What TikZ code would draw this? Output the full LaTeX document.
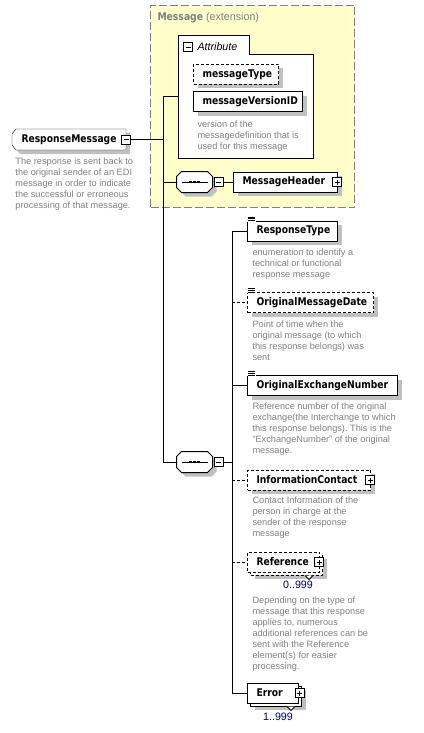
\documentclass[tikz,border=0pt]{standalone}
\usepackage{fontspec}
\setmainfont{Liberation Sans}
\newfontfamily\tahomafont[FakeStretch=0.865]{DejaVu Sans}
\usepackage{tikz}
\usetikzlibrary{shadows,backgrounds}
\definecolor{descgray}{RGB}{128,128,128}
\definecolor{extyellow}{RGB}{255,255,204}
\definecolor{extborder}{RGB}{128,128,128}
\definecolor{multblue}{RGB}{0,0,110}
\definecolor{shadowgray}{RGB}{192,192,192}
\frenchspacing

\begin{document}
\begin{tikzpicture}[x=1pt, y=-1pt, line width=1pt,
    shade/.style={drop shadow={shadow xshift=4pt, shadow yshift=-4pt, fill=shadowgray, opacity=1}},
    elembase/.style={draw, fill=white, minimum height=20pt, inner xsep=9pt, inner ysep=0pt,
        text width=#1, align=left, anchor=west,
        font=\tahomafont\bfseries\fontsize{10.6}{12}\selectfont},
    elem/.style={elembase=#1, shade},
    opt/.style={dash pattern=on 3pt off 2pt},
    seq/.style={minimum width=35pt, minimum height=20pt, inner sep=0pt},
    pm/.style={draw, fill=white, minimum size=9pt, inner sep=0pt, line width=0.8pt},
    minusbox/.style={pm, path picture={
            \draw[line width=0.8pt] ([xshift=2pt]path picture bounding box.west) -- ([xshift=-2pt]path picture bounding box.east);}},
    plusbox/.style={pm, path picture={
            \draw[line width=0.8pt] ([xshift=2pt]path picture bounding box.west) -- ([xshift=-2pt]path picture bounding box.east)
                ([yshift=2pt]path picture bounding box.south) -- ([yshift=-2pt]path picture bounding box.north);}},
    desc/.style={anchor=north west, inner sep=0pt, align=left, text=descgray, font=\fontsize{9.2}{11}\selectfont},
    mult/.style={inner sep=0pt, text=multblue, font=\fontsize{10.7}{12}\selectfont}]

    \useasboundingbox (0,0) rectangle (423,733);

    % Extension
    \node[draw=extborder, fill=extyellow, dash pattern=on 8pt off 3pt, minimum width=204pt, minimum height=202pt,
        anchor=north west, inner sep=0pt] (ext) at (150,5) {};
    \node[anchor=west, inner sep=0pt, text=extborder, font=\fontsize{10.7}{12}\selectfont] (exttitle) at (157,18)
        {{\tahomafont\bfseries Message} (extension)};

    % Attributes
    \draw[fill=white] (178,36) -- (249,36) -- (249,55) -- (313,55) -- (313,158) -- (178,158) -- cycle;
    \coordinate (attr) at (178,97);
    \node[minusbox] (attrm) at (188,47) {};
    \node[anchor=west, inner sep=0pt, font=\itshape\fontsize{10.7}{12}\selectfont] (attrlbl) at (197,47) {Attribute};
    \node[elem=67, opt] (mtype) at (193,74.5) {messageType};
    \node[elem=91] (mvid) at (193,102) {messageVersionID};
    \node[desc] (mviddesc) at (197,120.7) {version of the\\messagedefinition that is\\used for this message};

    % Root
    \node[elembase=95, draw=none, fill=none] (rmsg) at (12,139.5) {ResponseMessage};
    \begin{scope}[on background layer]
        \draw[fill=white, shade] ([xshift=4pt]rmsg.north west) -- (rmsg.north east) -- (rmsg.south east)
            -- ([xshift=4pt]rmsg.south west) -- ([yshift=5pt]rmsg.south west) -- ([yshift=-5pt]rmsg.north west) -- cycle;
    \end{scope}
    \node[minusbox] (rmm) at (rmsg.east) {};
    \node[desc] (rmsgdesc) at (15,157.7) {The response is sent back to\\the original sender of an EDI\\message in order to indicate\\the successful or erroneous\\processing of that message.};

    % Sequences
    \node[seq] (seq1) at (194.5,182) {};
    \node[seq] (seq2) at (194.5,462) {};
    \foreach \s in {seq1, seq2} {
        \draw[fill=white, shade] ([xshift=5pt]\s.north west) -- ([xshift=-5pt]\s.north east) -- ([yshift=-5pt]\s.north east)
            -- ([yshift=5pt]\s.south east) -- ([xshift=-5pt]\s.south east) -- ([xshift=5pt]\s.south west)
            -- ([yshift=5pt]\s.south west) -- ([yshift=-5pt]\s.north west) -- cycle;
        \draw ([xshift=5pt]\s.west) -- ([xshift=-5pt]\s.east);
        \foreach \dx in {-4,0,4}
            \fill ([xshift=\dx pt]\s.center) +(-1.3,-1.3) rectangle +(1.3,1.3);
    }
    \node[minusbox] (seq1m) at ([xshift=6pt]seq1.east) {};
    \node[minusbox] (seq2m) at ([xshift=6pt]seq2.east) {};
    \node[elem=86] (mhead) at (233,182) {MessageHeader};
    \node[plusbox] (mheadp) at ([xshift=-1pt]mhead.east) {};

    % Elements
    \node[elem=72] (rtype) at (247,231) {ResponseType};
    \node[desc] (rtypedesc) at (252,248.7) {enumeration to identify a\\technical or functional\\response message};
    \node[elem=108, opt] (omd) at (247,302.5) {OriginalMessageDate};
    \node[desc] (omddesc) at (252,320.7) {Point of time when the\\original message (to which\\this response belongs) was\\sent};
    \node[elem=132] (oen) at (247,385.5) {OriginalExchangeNumber};
    \node[desc] (oendesc) at (252,402.7) {Reference number of the original\\exchange(the Interchange to which\\this response belongs). This is the\\"ExchangeNumber" of the original\\message.};
    \node[elem=105, opt] (ic) at (247,480) {InformationContact};
    \node[plusbox] (icp) at ([xshift=-1pt]ic.east) {};
    \node[desc] (icdesc) at (252,496.7) {Contact Information of the\\person in charge at the\\sender of the response\\message};

    % Repeated elements
    \node[elem=54, opt] (refb) at (250,565) {};
    \draw[line width=0.8pt, fill=white] ([xshift=-18pt]refb.south east) -- ([xshift=-14pt,yshift=-4pt]refb.south east) -- ([xshift=-10pt]refb.south east);
    \node[elembase=54, opt] (ref) at (247,562) {Reference};
    \node[plusbox] (refp) at ([xshift=-1pt]ref.east) {};
    \node[mult] (refm) at (298,585) {0..999};
    \node[desc] (refdesc) at (252,596.7) {Depending on the type of\\message that this response\\applies to, numerous\\additional references can be\\sent with the Reference\\element(s) for easier\\processing.};
    \node[elem=33] (errb) at (250,696) {};
    \draw[line width=0.8pt, fill=white] ([xshift=-15pt]errb.south east) -- ([xshift=-11pt,yshift=-4pt]errb.south east) -- ([xshift=-7pt]errb.south east);
    \node[elembase=33] (err) at (247,693) {Error};
    \node[plusbox] (errp) at ([xshift=0.5pt]err.east) {};
    \node[mult] (errm) at (278,717) {1..999};

    % simple type marks
    \foreach \n in {rtype, omd, oen} {
        \fill[white] ([xshift=-0.5pt,yshift=4pt]\n.north west) rectangle ([xshift=9pt,yshift=-1pt]\n.north west);
        \foreach \dy in {3.5,1.75,0}
            \draw[line width=0.8pt] ([xshift=1pt,yshift=\dy pt]\n.north west) -- ([xshift=8pt,yshift=\dy pt]\n.north west);
    }

    % Connectors
    \coordinate (otop) at (163,97);
    \coordinate (itop) at (232,231);
    \coordinate (ibot) at (232,693);
    \draw (attr) -- (otop) |- (seq2.west);
    \draw (rmm.east) -- (rmm -| otop);
    \draw (otop |- seq1) -- (seq1.west);
    \draw (seq1m.east) -- (mhead.west);
    \draw (seq2m.east) -- (seq2m -| itop);
    \draw (rtype.west) -- (itop) -- (ibot) -- (err.west);
    \draw[opt] (itop |- omd) -- (omd.west);
    \draw (itop |- oen) -- (oen.west);
    \draw[opt] (itop |- ic) -- (ic.west);
    \draw[opt] (itop |- ref) -- (ref.west);
\end{tikzpicture}
\end{document}
